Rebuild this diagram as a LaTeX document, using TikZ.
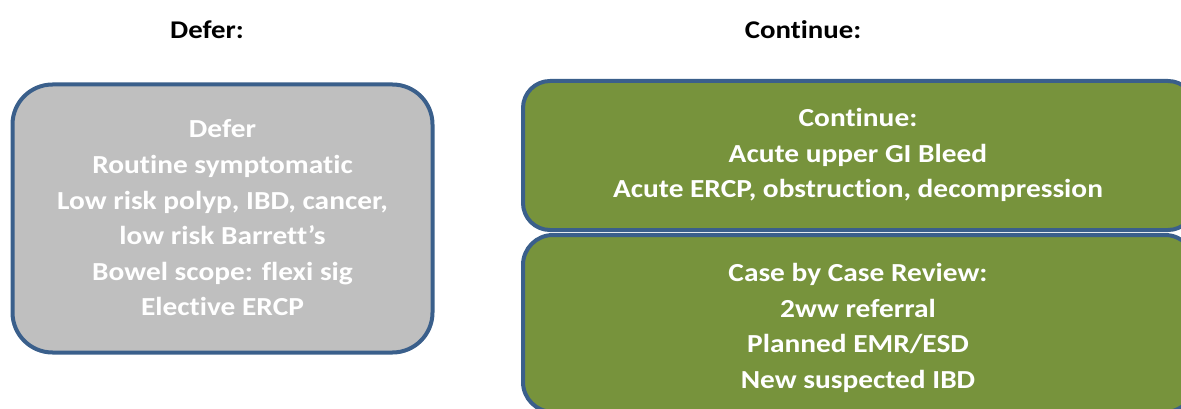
\documentclass[tikz,border=0pt]{standalone}
\usepackage{fontspec}
\setmainfont[FakeStretch=1.13,Ligatures=NoCommon]{Carlito}
\definecolor{edgeblue}{HTML}{3A5F8B}
\definecolor{boxgray}{HTML}{BFBFBF}
\definecolor{boxgreen}{HTML}{77933C}
\begin{document}
\begin{tikzpicture}[x=1pt,y=-1pt,
  box/.style={draw=edgeblue, line width=4pt, inner sep=0pt},
  boxtext/.style={text=white, align=center, font=\fontsize{26}{35.6}\selectfont\bfseries},
  heading/.style={text=black, font=\fontsize{25.5}{30}\selectfont\bfseries}]
\useasboundingbox (0,0) rectangle (1181,409);
\clip (0,0) rectangle (1181,409);
\node[heading] (hdefer) at (207,30) {Defer:};
\node[heading] (hcont) at (803,30) {Continue:};
\node[box, fill=boxgray, rounded corners=40pt, minimum width=420pt, minimum height=268pt] (defer) at (222.5,218.5) {};
\node[box, fill=boxgreen, rounded corners=27pt, minimum width=672pt, minimum height=149pt] (cont) at (859,155.5) {};
\node[box, fill=boxgreen, rounded corners=30pt, minimum width=672pt, minimum height=177pt] (case) at (859,323.5) {};
\node[boxtext] (tdefer) at (222.5,218) {Defer\\Routine symptomatic\\Low risk polyp, IBD, cancer,\\low risk Barrett’s\\Bowel scope: flexi sig\\Elective ERCP};
\node[boxtext] (tcont) at (858,155) {Continue:\\Acute upper GI Bleed\\Acute ERCP, obstruction, decompression};
\node[boxtext] (tcase) at (858,328) {Case by Case Review:\\2ww referral\\Planned EMR/ESD\\New suspected IBD};
\end{tikzpicture}
\end{document}
